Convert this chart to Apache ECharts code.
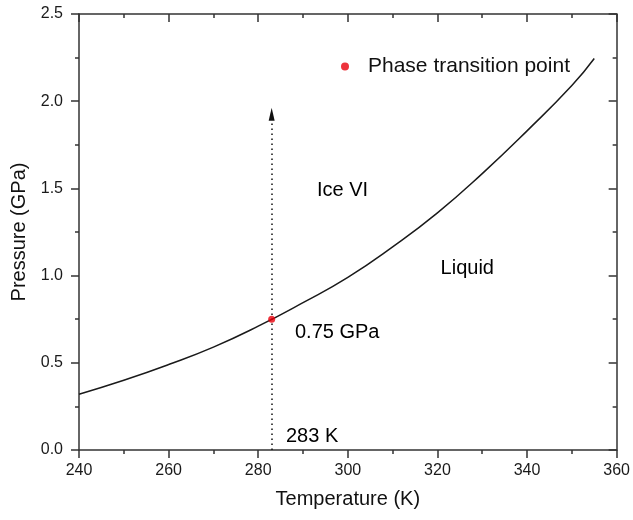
<!DOCTYPE html>
<html>
<head>
<meta charset="utf-8">
<script src="https://cdn.jsdelivr.net/npm/echarts@6/dist/echarts.min.js"></script>
<style>
html,body{margin:0;padding:0;background:#fff;}
#chart{width:633px;height:520px;}
</style>
</head>
<body>
<div id="chart"></div>
<script>
// Boundary curve (Ice VI / Liquid), temperature in K, pressure in GPa
const temps = [240, 250, 260, 270, 280, 290, 300, 310, 320, 330, 340, 350, 355];
const pressures = [0.32, 0.40, 0.49, 0.59, 0.71, 0.845, 0.99, 1.165, 1.36, 1.585, 1.83, 2.09, 2.245];
// Phase transition point
const transitionT = [283];
const transitionP = [0.75];
// Dotted arrow (from axis up)
const arrowT = [283, 283];
const arrowP = [0, 1.925];
// Annotations [T, P, text]
const annotT = [293.1, 320.7, 288.2, 286.2];
const annotP = [1.49, 1.04, 0.675, 0.075];
const annotText = ['Ice VI', 'Liquid', '0.75 GPa', '283 K'];
const legendName = 'Phase transition point';
const xTitle = 'Temperature (K)';
const yTitle = 'Pressure (GPa)';

const FONT = 'Liberation Sans, Arial, sans-serif';
const AX = '#333';

const chart = echarts.init(document.getElementById('chart'), null, {renderer: 'canvas'});

const baseX = {
  type: 'value', min: 240, max: 360, interval: 20,
  axisLine: {show: true, onZero: false, lineStyle: {color: AX, width: 1.5}},
  splitLine: {show: false},
  minorTick: {show: true, splitNumber: 2, length: 4, lineStyle: {color: AX, width: 1.5}},
  axisTick: {show: true, length: 8, lineStyle: {color: AX, width: 1.5}}
};
const baseY = {
  type: 'value', min: 0, max: 2.5, interval: 0.5,
  axisLine: {show: true, onZero: false, lineStyle: {color: AX, width: 1.5}},
  splitLine: {show: false},
  minorTick: {show: true, splitNumber: 2, length: 4, lineStyle: {color: AX, width: 1.5}},
  axisTick: {show: true, length: 8, lineStyle: {color: AX, width: 1.5}}
};

const option = {
  animation: false,
  backgroundColor: '#fff',
  grid: {left: 79, right: 14, top: 14, bottom: 70, containLabel: false},
  legend: {
    data: [{name: legendName, icon: 'circle', itemStyle: {color: '#e8000b'}}],
    left: 341, top: 56,
    itemWidth: 36, itemHeight: 8,
    padding: 0,
    textStyle: {fontFamily: FONT, fontSize: 21, color: '#111'},
    selectedMode: false
  },
  xAxis: [
    Object.assign({}, baseX, {
      position: 'bottom',
      name: xTitle, nameLocation: 'middle', nameGap: 39,
      nameTextStyle: {fontFamily: FONT, fontSize: 20, color: '#111'},
      axisLabel: {fontFamily: FONT, fontSize: 16, color: '#1a1a1a', margin: 13,
        formatter: v => String(v)}
    }),
    Object.assign({}, baseX, {
      position: 'top',
      axisLabel: {show: false},
      axisTick: {show: true, inside: true, length: 8, lineStyle: {color: AX, width: 1.5}},
      minorTick: {show: true, splitNumber: 2, length: 4, lineStyle: {color: AX, width: 1.5}}
    })
  ],
  yAxis: [
    Object.assign({}, baseY, {
      position: 'left',
      name: yTitle, nameLocation: 'middle', nameGap: 50,
      nameTextStyle: {fontFamily: FONT, fontSize: 20, color: '#111'},
      axisLabel: {fontFamily: FONT, fontSize: 16, color: '#1a1a1a', margin: 16,
        formatter: v => v.toFixed(1)}
    }),
    Object.assign({}, baseY, {
      position: 'right',
      axisLabel: {show: false},
      axisTick: {show: true, inside: true, length: 8, lineStyle: {color: AX, width: 1.5}},
      minorTick: {show: true, splitNumber: 2, length: 4, lineStyle: {color: AX, width: 1.5}}
    })
  ],
  series: [
    {
      name: 'boundary', type: 'line', smooth: 0.5,
      xAxisIndex: 0, yAxisIndex: 0,
      data: temps.map((t, i) => [t, pressures[i]]),
      showSymbol: false, symbol: 'none',
      lineStyle: {color: '#1a1a1a', width: 1.5},
      z: 3
    },
    {
      name: 'arrow', type: 'line',
      xAxisIndex: 0, yAxisIndex: 0,
      data: [],
      markLine: {
        silent: true,
        symbol: ['none', 'triangle'],
        symbolSize: [6, 13],
        label: {show: false},
        lineStyle: {color: '#111', width: 1.5, type: [1.5, 3.5]},
        data: [[{coord: [arrowT[0], arrowP[0]]}, {coord: [arrowT[1], arrowP[1]]}]]
      },
      z: 2
    },
    {
      name: legendName, type: 'scatter',
      xAxisIndex: 0, yAxisIndex: 0,
      data: transitionT.map((t, i) => [t, transitionP[i]]),
      symbol: 'circle', symbolSize: 7,
      itemStyle: {color: '#e8000b'},
      z: 5
    },
    {
      name: 'annotations', type: 'scatter',
      xAxisIndex: 0, yAxisIndex: 0,
      data: annotT.map((t, i) => [t, annotP[i], annotText[i]]),
      symbolSize: 0,
      silent: true,
      itemStyle: {opacity: 1},
      label: {
        show: true, position: 'right', distance: 0,
        formatter: p => p.data[2],
        fontFamily: FONT, fontSize: 20, color: '#000', opacity: 1
      }
    }
  ]
};
chart.setOption(option);
</script>
</body>
</html>
